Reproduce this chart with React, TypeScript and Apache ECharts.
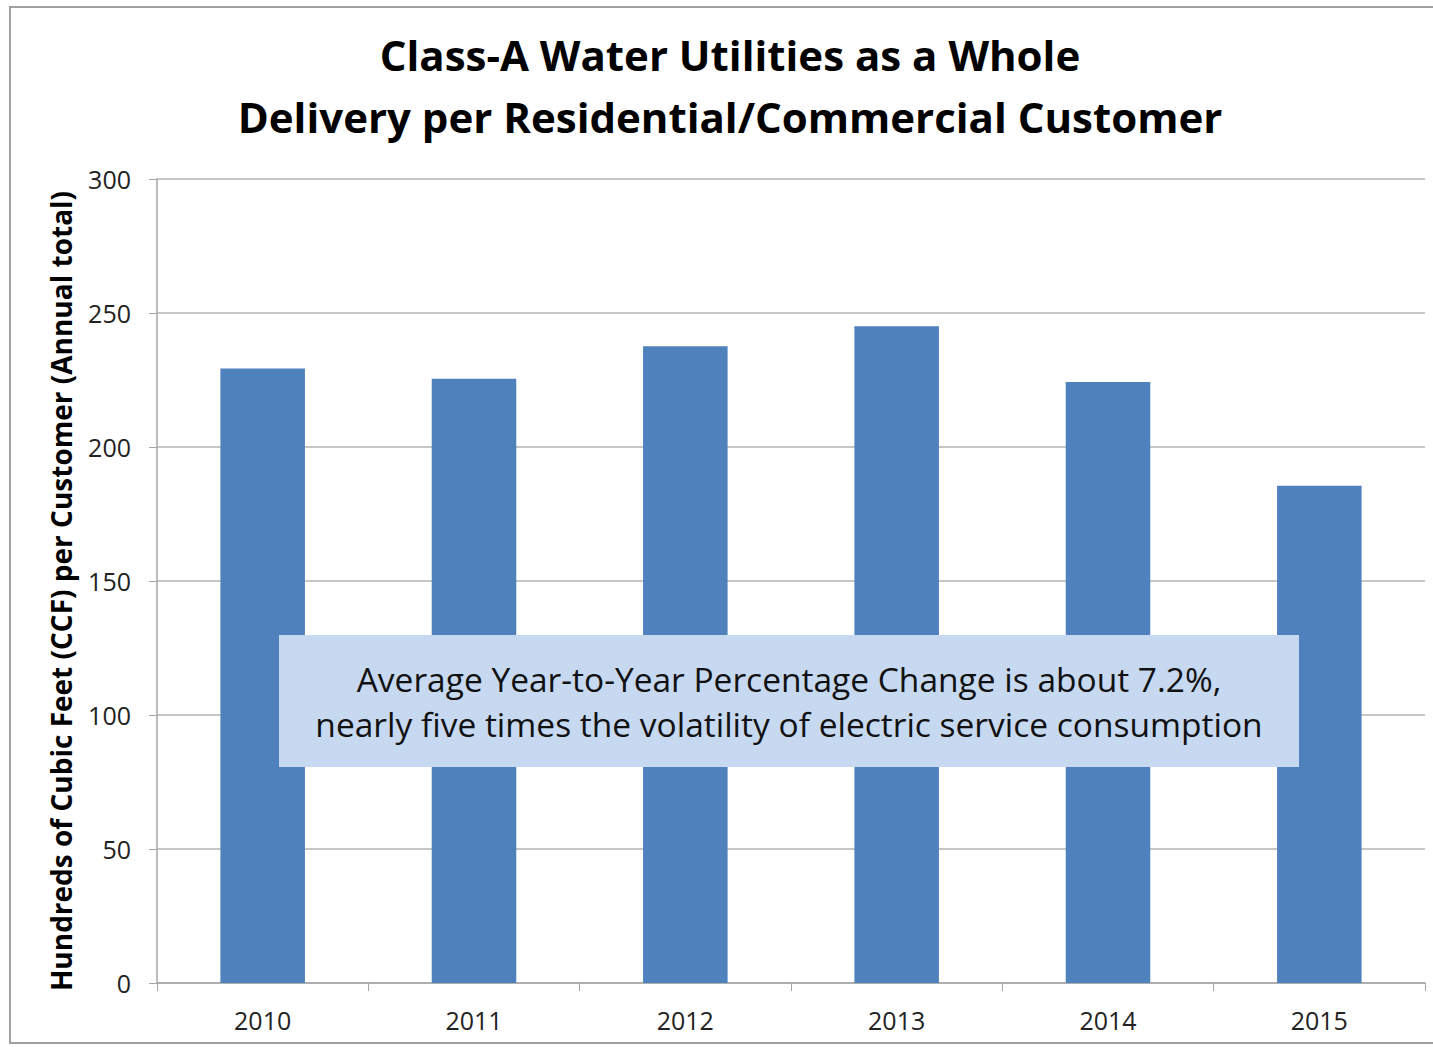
import React, { useEffect, useRef } from "react";
import * as echarts from "echarts";

const years = ["2010", "2011", "2012", "2013", "2014", "2015"];
const delivery = [229.3, 225.5, 237.6, 245.1, 224.3, 185.5];
const titleLines = ["Class-A Water Utilities as a Whole", "Delivery per Residential/Commercial Customer"];
const yAxisName = "Hundreds of Cubic Feet (CCF) per Customer (Annual total)";
const noteLines = [
  "Average Year-to-Year Percentage Change is about 7.2%,",
  "nearly five times the volatility of electric service consumption",
];

export default function App() {
  const ref = useRef<HTMLDivElement>(null);
  useEffect(() => {
    if (!ref.current) return;
    const chart = echarts.init(ref.current, null, { renderer: "svg" });
    const font = "'Open Sans', 'Noto Sans', sans-serif";
    chart.setOption({
      animation: false,
      backgroundColor: "#ffffff",
      textStyle: { fontFamily: font },
      title: {
        text: titleLines.join("\n"),
        left: 730,
        textAlign: "center",
        top: 23,
        padding: 0,
        textStyle: { fontSize: 42, fontWeight: "bold", color: "#000", lineHeight: 62, fontFamily: font },
      },
      grid: { left: 157, right: 8, top: 179, bottom: 64 },
      xAxis: {
        type: "category",
        data: years,
        axisLine: { lineStyle: { color: "#a6a6a6", width: 1.5 } },
        axisTick: { show: true, length: 8, lineStyle: { color: "#a6a6a6" } },
        axisLabel: { fontSize: 25, color: "#222", margin: 24 },
      },
      yAxis: {
        type: "value",
        min: 0,
        max: 300,
        interval: 50,
        name: yAxisName,
        nameLocation: "middle",
        nameGap: 82,
        nameTextStyle: { fontSize: 28, fontWeight: "bold", color: "#000", padding: [0, 20, 0, 0] },
        axisLine: { show: true, lineStyle: { color: "#a6a6a6", width: 1.5 } },
        axisTick: { show: true, length: 8, lineStyle: { color: "#a6a6a6" } },
        axisLabel: { fontSize: 25, color: "#222", margin: 26 },
        splitLine: { lineStyle: { color: "#b3b3b3", width: 1.5 } },
      },
      series: [
        {
          type: "bar",
          data: delivery,
          barWidth: "40%",
          itemStyle: { color: "#4f81bd" },
        },
      ],
      graphic: [
        {
          type: "rect",
          z: 100,
          shape: { x: 10, y: 7, width: 1440, height: 1036 },
          style: { fill: "none", stroke: "#a0a0a0", lineWidth: 2 },
        },
        {
          type: "rect",
          z: 110,
          shape: { x: 279, y: 635, width: 1020, height: 132 },
          style: { fill: "#c6d9f1" },
        },
        {
          type: "text",
          z: 120,
          x: 789,
          y: 701,
          style: {
            text: noteLines.join("\n"),
            fill: "#111",
            fontSize: 33.5,
            lineHeight: 45,
            fontFamily: font,
            align: "center",
            verticalAlign: "middle",
          },
        },
      ],
    });
    return () => chart.dispose();
  }, []);
  return <div ref={ref} style={{ position: "fixed", left: 0, top: 0, width: 1433, height: 1047 }} />;
}
